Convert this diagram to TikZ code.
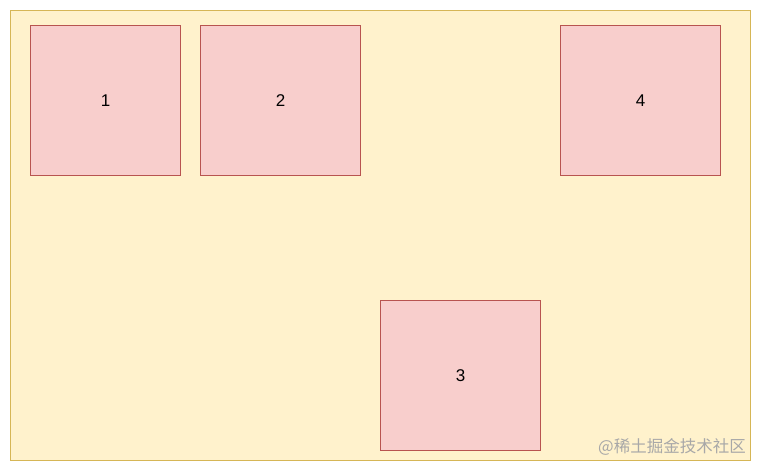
\documentclass[tikz,border=0pt]{standalone}
\usepackage{fontspec}
\setmainfont{Liberation Sans}
\newfontfamily\cjk{Noto Sans CJK SC}
\definecolor{bgfill}{HTML}{FFF2CC}
\definecolor{bgdraw}{HTML}{D6B656}
\definecolor{boxfill}{HTML}{F8CECC}
\definecolor{boxdraw}{HTML}{B85450}
\definecolor{wmark}{HTML}{A8A8A8}
\begin{document}
\begin{tikzpicture}[x=1pt,y=-1pt,
  box/.style={draw=boxdraw,fill=boxfill,line width=0.8pt},
  lbl/.style={font=\fontsize{17}{20}\selectfont,text=black}]
\useasboundingbox (0,0) rectangle (761,471);
\fill[white] (0,0) rectangle (761,471);
\draw[draw=bgdraw,fill=bgfill,line width=0.8pt] (10.5,10.5) rectangle (750,460.5);
\draw[box] (30.5,25.5) rectangle (180.5,175.5);
\draw[box] (200.5,25.5) rectangle (360.5,175.5);
\draw[box] (560.5,25.5) rectangle (720.5,175.5);
\draw[box] (380.5,300.5) rectangle (540.5,450.5);
\node[lbl] (n1) at (105.5,100.5) {1};
\node[lbl] (n2) at (280.5,100.5) {2};
\node[lbl] (n4) at (640.5,100.5) {4};
\node[lbl] (n3) at (460.5,375.5) {3};
\node[anchor=east,text=wmark,inner sep=0pt,font=\cjk\fontsize{16.5}{18}\selectfont] (wm) at (746,446.5) {@稀土掘金技术社区};
\end{tikzpicture}
\end{document}
